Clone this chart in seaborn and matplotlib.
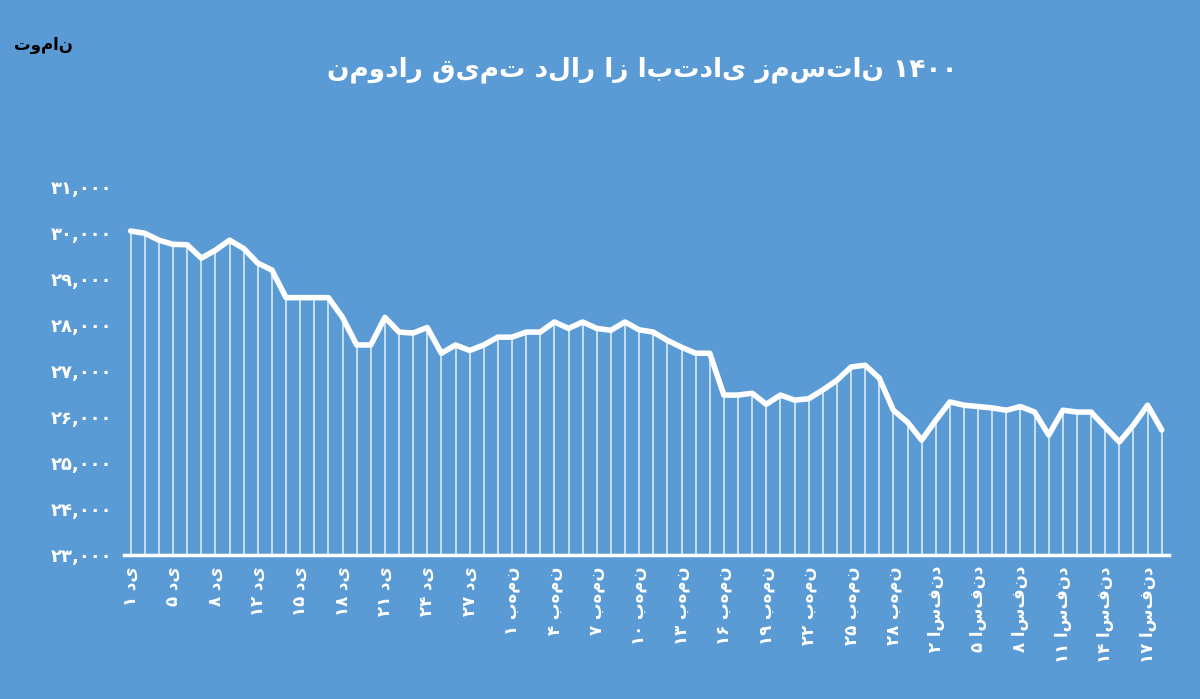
import matplotlib
matplotlib.use("Agg")
import matplotlib.pyplot as plt
import numpy as np
import pandas as pd
import seaborn as sns

# dollar price (toman), daily from 1 Dey 1400
prices = [30050, 30000, 29850, 29760, 29750, 29460, 29630, 29850, 29670, 29350,
          29200, 28600, 28600, 28600, 28600, 28170, 27570, 27570, 28170, 27850,
          27830, 27950, 27390, 27570, 27450, 27570, 27740, 27740, 27850, 27850,
          28070, 27930, 28070, 27930, 27890, 28070, 27900, 27850, 27670, 27520,
          27390, 27390, 26480, 26480, 26520, 26280, 26480, 26370, 26400, 26590,
          26800, 27090, 27130, 26850, 26150, 25890, 25500, 25930, 26330, 26260,
          26230, 26200, 26150, 26230, 26110, 25610, 26150, 26110, 26110, 25780,
          25460, 25830, 26260, 25720]
tick_labels = ["۱ دی", "۵ دی", "۸ دی", "۱۲ دی", "۱۵ دی", "۱۸ دی", "۲۱ دی", "۲۴ دی",
               "۲۷ دی", "۱ بهمن", "۴ بهمن", "۷ بهمن", "۱۰ بهمن", "۱۳ بهمن", "۱۶ بهمن",
               "۱۹ بهمن", "۲۲ بهمن", "۲۵ بهمن", "۲۸ بهمن", "۲ اسفند", "۵ اسفند",
               "۸ اسفند", "۱۱ اسفند", "۱۴ اسفند", "۱۷ اسفند"]
y_ticks = [23000, 24000, 25000, 26000, 27000, 28000, 29000, 30000, 31000]

def fa_digits(s):
    return s.translate(str.maketrans("0123456789", "۰۱۲۳۴۵۶۷۸۹"))

bg = "#5b9bd5"
df = pd.DataFrame({"day": np.arange(len(prices)), "price": prices})

sns.set_style("white")
plt.rcParams["font.family"] = ["DejaVu Sans"]
fig = plt.figure(figsize=(12, 6.99), dpi=100, facecolor=bg)
ax = fig.add_axes([0.103, 0.206, 0.871, 0.526], facecolor=bg)

ax.vlines(df.day, 23000, df.price, color="white", lw=1.1, alpha=0.85)
sns.lineplot(data=df, x="day", y="price", ax=ax, color="white", lw=4)

ax.set_xlim(-0.5, len(prices) - 0.5)
ax.set_ylim(23000, 31000)
ax.set_xticks(np.arange(0, len(prices), 3)[:len(tick_labels)])
ax.set_xticklabels(tick_labels, rotation=90, color="white", fontsize=12, fontweight="bold")
ax.set_yticks(y_ticks)
ax.set_yticklabels([fa_digits(f"{v:,}") for v in y_ticks], color="white", fontsize=13, fontweight="bold")
ax.tick_params(length=0, pad=8)
ax.set_xlabel("")
ax.set_ylabel("")
for s in ["top", "right", "left"]:
    ax.spines[s].set_visible(False)
ax.spines["bottom"].set_color("white")
ax.spines["bottom"].set_linewidth(2.5)

fig.text(0.535, 0.90, "نمودار قیمت دلار از ابتدای زمستان ۱۴۰۰", color="white",
         fontsize=19, fontweight="bold", ha="center", va="center")
fig.text(0.012, 0.935, "تومان", color="black", fontsize=12, fontweight="bold", ha="left", va="center")

fig.savefig("out.png", dpi=100, facecolor=bg)
